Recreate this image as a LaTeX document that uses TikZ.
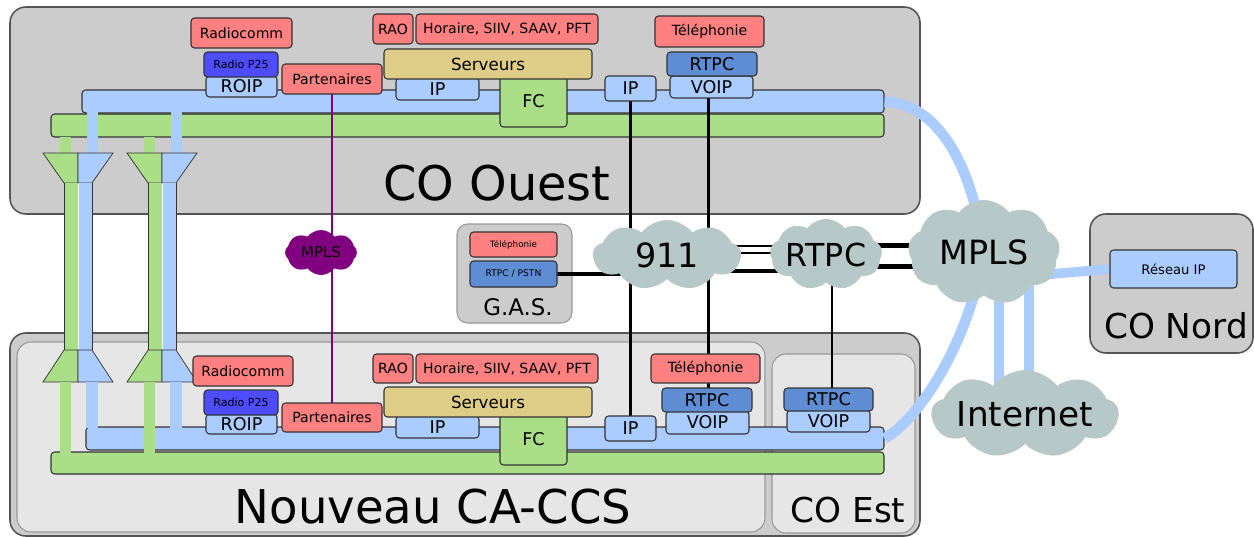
\documentclass[tikz,border=0pt]{standalone}
\usepackage{fontspec}
\setmainfont{DejaVu Sans}
\usetikzlibrary{shapes.symbols}

\definecolor{redbox}{HTML}{FF8080}
\definecolor{p25}{HTML}{4D4DFF}
\definecolor{rtpcblue}{HTML}{5F8DD3}
\definecolor{lblue}{HTML}{AACCFF}
\definecolor{lgreen}{HTML}{AADE87}
\definecolor{srvtan}{HTML}{DECD87}
\definecolor{grayA}{HTML}{CCCCCC}
\definecolor{grayB}{HTML}{E6E6E6}
\definecolor{cloudc}{HTML}{B7C8C8}
\definecolor{edge}{HTML}{333333}
\definecolor{framec}{HTML}{555555}
\definecolor{innerframe}{HTML}{999999}
\definecolor{mplsp}{HTML}{800080}

\pgfdeclarelayer{back}
\pgfdeclarelayer{mid}
\pgfsetlayers{back,mid,main}

% box from corner (#2,#3) to corner (#4,#5), in pixel units
\newcommand\bx[7]{\node[#6, minimum width={(#4-#2)*0.02cm}, minimum height={(#5-#3)*0.02cm}] (#1) at ({(#2+#4)/2},{(#3+#5)/2}) {#7};}

% one green/blue trunk pair between the two sites
\newcommand\linkpair[1]{%
\begin{scope}[shift={(#1,0)}]
\fill[lgreen] (60,136.5) rectangle (71,153.5);
\fill[lblue] (87,112.5) rectangle (98,153.5);
\filldraw[fill=lgreen, draw=edge, line width=0.4pt] (43,153)--(78,153)--(78,183)--(64,183)--cycle;
\filldraw[fill=lblue, draw=edge, line width=0.4pt] (78,153)--(113,153)--(92,183)--(78,183)--cycle;
\fill[lgreen] (64,183) rectangle (78,350);
\fill[lblue] (78,183) rectangle (92,350);
\draw[edge, line width=0.4pt] (64,183)--(64,350) (92,183)--(92,350);
\draw[white, line width=0.5pt] (78,184)--(78,349);
\filldraw[fill=lgreen, draw=edge, line width=0.4pt] (64,350)--(78,350)--(78,382)--(43,382)--cycle;
\filldraw[fill=lblue, draw=edge, line width=0.4pt] (78,350)--(92,350)--(113,382)--(78,382)--cycle;
\fill[lgreen] (60,381.5) rectangle (71,452.5);
\fill[lblue] (86,381.5) rectangle (98,428);
\end{scope}}

\begin{document}
\begin{tikzpicture}[x=0.02cm, y=-0.02cm,
  box/.style={draw=edge, line width=0.6pt, rounded corners=2pt, inner sep=0pt, outer sep=0pt,
    font=\fontsize{8}{9.6}\selectfont, text=black},
  redb/.style={box, fill=redbox},
  p25b/.style={box, fill=p25, font=\fontsize{6.3}{7.5}\selectfont},
  lbb/.style={box, fill=lblue, font=\fontsize{10}{12}\selectfont},
  rtpcb/.style={box, fill=rtpcblue, font=\fontsize{10}{12}\selectfont},
  srvb/.style={box, fill=srvtan, font=\fontsize{9.5}{11.4}\selectfont},
  fcb/.style={box, fill=lgreen, font=\fontsize{10}{12}\selectfont},
  busb/.style={draw=edge, line width=0.6pt, rounded corners=2pt, inner sep=0pt, fill=lblue},
  busg/.style={draw=edge, line width=0.6pt, rounded corners=2pt, inner sep=0pt, fill=lgreen},
  container/.style={draw=framec, line width=0.9pt, rounded corners=9pt, fill=grayA, inner sep=0pt},
  subsite/.style={draw=innerframe, line width=0.6pt, rounded corners=8pt, fill=grayB, inner sep=0pt},
  cloudn/.style={cloud, cloud puffs=9, cloud puff arc=105, cloud ignores aspect, fill=cloudc,
    inner sep=0pt, font=\fontsize{19}{22}\selectfont},
  sitelabel/.style={anchor=base, inner sep=0pt},
  wire/.style={line width=1.7pt, black},
  trunk/.style={line width=6pt, lblue}
]
\useasboundingbox (0,0) rectangle (1254,537);

% ---------- CO Ouest equipment ----------
\bx{radT}{191}{18}{292}{48}{redb}{Radiocomm}
\bx{roipT}{206}{76}{277}{97}{lbb}{ROIP}
\bx{p25T}{204}{52}{278}{77}{p25b}{Radio P25}
\bx{partT}{282}{64}{382}{94}{redb}{Partenaires}
\bx{raoT}{373}{14}{413}{44}{redb}{RAO}
\bx{appT}{416}{14}{598}{44}{redb}{Horaire, SIIV, SAAV, PFT}
\bx{ipsT}{396}{78}{479}{100}{lbb}{IP}
\bx{fcT}{500}{76}{567}{127}{fcb}{FC}
\bx{srvT}{384}{49}{592}{79}{srvb}{Serveurs}
\bx{ipT}{605}{76}{656}{101}{lbb}{IP}
\bx{telT}{655}{16}{764}{47}{redb}{Téléphonie}
\bx{voipT}{670}{76}{753}{98}{lbb}{VOIP}
\bx{rtpcT}{667}{52}{757}{76}{rtpcb}{RTPC}
\node[sitelabel, font=\fontsize{27.2}{31}\selectfont] (lblOuest) at (497,200) {CO Ouest};

% ---------- Nouveau CA-CCS equipment ----------
\bx{radB}{193}{356}{293}{386}{redb}{Radiocomm}
\bx{roipB}{206}{414}{277}{434}{lbb}{ROIP}
\bx{p25B}{204}{390}{278}{415}{p25b}{Radio P25}
\bx{partB}{282}{403}{382}{432}{redb}{Partenaires}
\bx{raoB}{373}{354}{413}{383}{redb}{RAO}
\bx{appB}{416}{354}{598}{383}{redb}{Horaire, SIIV, SAAV, PFT}
\bx{ipsB}{396}{416}{479}{438}{lbb}{IP}
\bx{fcB}{500}{414}{567}{465}{fcb}{FC}
\bx{srvB}{384}{387}{592}{417}{srvb}{Serveurs}
\bx{ipB}{605}{416}{656}{441}{lbb}{IP}
\bx{telB}{651}{354}{760}{383}{redb}{Téléphonie}
\bx{voipB}{666}{411}{749}{434}{lbb}{VOIP}
\bx{rtpcB}{662}{388}{752}{412}{rtpcb}{RTPC}
\node[sitelabel, font=\fontsize{26.5}{30}\selectfont] (lblCaccs) at (433,523) {Nouveau CA-CCS};

% ---------- CO Est ----------
\bx{voipE}{787}{410}{870}{432}{lbb}{VOIP}
\bx{rtpcE}{784}{388}{873}{411}{rtpcb}{RTPC}
\node[sitelabel, font=\fontsize{19.5}{23}\selectfont] (lblEst) at (848,522) {CO Est};

% ---------- G.A.S. ----------
\bx{telG}{470}{232}{557}{257}{redb, font=\fontsize{5}{6}\selectfont}{Téléphonie}
\bx{gasR}{470}{261}{557}{287}{rtpcb, font=\fontsize{5.2}{6.2}\selectfont}{RTPC / PSTN}
\node[sitelabel, font=\fontsize{13}{15}\selectfont] (lblGas) at (518,315) {G.A.S.};

% ---------- CO Nord ----------
\bx{resIP}{1110}{250}{1237}{288}{lbb, font=\fontsize{7.5}{9}\selectfont}{Réseau IP}
\node[sitelabel, font=\fontsize{19.5}{23}\selectfont] (lblNord) at (1176,338) {CO Nord};

% ---------- networks ----------
\bx{c911}{593}{220}{741}{290}{cloudn}{911}
\bx{cRT}{770}{219}{882}{290}{cloudn, font=\fontsize{18}{21}\selectfont}{RTPC}
\bx{cMP}{908}{200}{1060}{305}{cloudn}{MPLS}
\bx{cInt}{935}{370}{1115}{458}{cloudn, font=\fontsize{19.5}{23}\selectfont}{Internet}
\bx{cMpP}{285}{230}{357}{275}{cloudn, fill=mplsp, cloud puffs=8, font=\fontsize{8.5}{10}\selectfont}{MPLS}

% ---------- sites, trunks and buses ----------
\begin{pgfonlayer}{back}
\fill[white] (0,0) rectangle (1254,537);
\bx{ouest}{10}{7}{920}{214}{container}{}
\bx{south}{10}{333}{920}{536}{container}{}
\bx{caccs}{17}{342}{765}{532}{subsite}{}
\bx{coest}{772}{354}{915}{533}{subsite}{}
\bx{gas}{457}{224}{572}{323}{container, draw=innerframe, line width=0.6pt, rounded corners=6pt}{}
\bx{nord}{1090}{214}{1253}{353}{container}{}
\bx{blueT}{82}{90}{884}{113}{busb}{}
\bx{greenT}{51}{114}{884}{137}{busg}{}
\bx{blueB}{86}{427}{884}{450}{busb}{}
\bx{greenB}{51}{452}{884}{474}{busg}{}
\linkpair{0}
\linkpair{84}
\end{pgfonlayer}

% ---------- links ----------
\coordinate (x708) at (708,0);
\coordinate (x832) at (832,0);
\coordinate (x999) at (999,0);
\coordinate (x1029) at (1029,0);
\coordinate (y246) at (0,246);
\coordinate (y253) at (0,253);
\coordinate (y271) at (0,271);
\coordinate (y245) at (0,245.5);
\coordinate (y267) at (0,266.5);
\coordinate (mplsR) at (1040,275);
\begin{pgfonlayer}{mid}
\draw[wire] (ipT.south) -- (ipB.north);
\draw[wire] (voipT.south -| x708) -- (rtpcB.north -| x708);
\draw[wire, line width=1.1pt] (cRT.center -| x832) -- (rtpcE.north -| x832);
\draw[mplsp, line width=1.6pt] (partT.south) -- (partB.north);
\draw[wire, line width=2.8pt] (gasR.east) -- (c911.center |- gasR.east);
\draw[wire, line width=1.6pt] (c911 |- y246) -- (cRT |- y246);
\draw[wire, line width=1.6pt] (c911 |- y253) -- (cRT |- y253);
\draw[wire, line width=2.8pt] (c911 |- y271) -- (cRT |- y271);
\draw[wire, line width=2.6pt] (cRT |- y245) -- (cMP |- y245);
\draw[wire, line width=3.4pt] (cRT |- y267) -- (cMP |- y267);
\draw[trunk] (blueT.east) .. controls (935,103) and (972,160) .. (cMP.center);
\draw[trunk] (blueB.east) .. controls (918,420) and (968,345) .. (cMP.center);
\draw[trunk] (cMP.center -| x999) -- (cInt.center -| x999);
\draw[trunk] (cMP.center -| x1029) -- (cInt.center -| x1029);
\draw[trunk, line width=5.5pt] (mplsR) -- (resIP.west);
\end{pgfonlayer}
\end{tikzpicture}
\end{document}
